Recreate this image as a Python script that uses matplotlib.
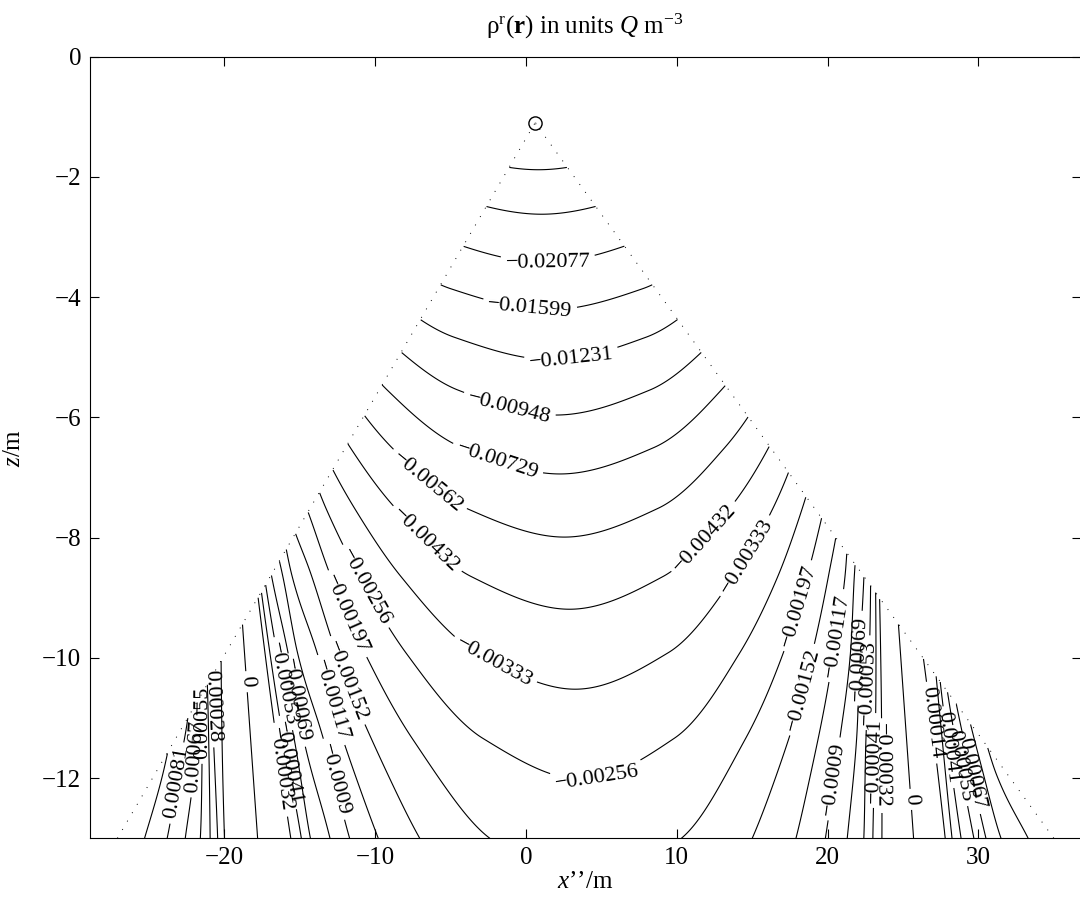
import numpy as np
import matplotlib.pyplot as plt

plt.rcParams['font.family'] = ['Liberation Serif', 'DejaVu Serif']
plt.rcParams['mathtext.fontset'] = 'custom'
plt.rcParams['mathtext.rm'] = 'Liberation Serif'
plt.rcParams['mathtext.it'] = 'Liberation Serif:italic'
plt.rcParams['mathtext.bf'] = 'Liberation Serif:bold'

# contour levels as labelled on the figure (Q m^-3)
levels = [-0.03505, -0.02698, -0.02077, -0.01599, -0.01231, -0.00948, -0.00729,
          -0.00562, -0.00432, -0.00333, -0.00256, -0.00197, -0.00152, -0.00117,
          -0.0009, -0.00069, -0.00053, -0.00041, -0.00032, 0.0,
          0.00014, 0.00028, 0.00041, 0.00055, 0.00067, 0.00081, 0.00095]

# point source and the cone below it
apex = (0.6, -1.1)
cone_left = (-27.1, -13.0)
cone_right = (35.0, -13.0)

# depth at which each level crosses the axis of the pattern
axis_z = [-1.88, -2.62, -3.42, -4.21, -5.04, -5.96, -6.94, -7.99, -9.19, -10.52, -12.02, -13.8]
axis_rho = [-0.03505, -0.02698, -0.02077, -0.01599, -0.01231, -0.00948, -0.00729,
            -0.00562, -0.00432, -0.00333, -0.00256, -0.00197]

# where the contours cut the bottom edge (z = -13), left and right of the axis
bottom_mid = 3.96
bottom_x_left = [-2.4, -7.05, -9.8, -11.7, -13.0, -14.3, -14.9, -15.6, -17.8,
                 -20.0, -20.45, -20.95, -21.6, -22.6, -23.8, -25.3]
bottom_x_right = [10.3, 15.0, 17.9, 19.85, 21.3, 22.4, 23.0, 23.6, 25.7,
                  27.8, 28.25, 28.85, 29.7, 30.5, 31.5, 33.3]
bottom_rho = [-0.00197, -0.00152, -0.00117, -0.0009, -0.00069, -0.00053, -0.00041, -0.00032, 0.0,
              0.00014, 0.00028, 0.00041, 0.00055, 0.00067, 0.00081, 0.00095]

# contour labels: (level, x, z) near where each one sits
label_at = [
    (-0.02077, 1.46, -3.38), (-0.01599, 0.27, -4.18), (-0.01231, 3.0, -4.96),
    (-0.00948, -1.06, -5.79), (-0.00729, -1.86, -6.71), (-0.00562, -6.37, -7.04),
    (-0.00432, -6.6, -8.04), (-0.00432, 11.7, -7.98), (-0.00333, 14.2, -8.26),
    (-0.00333, -2.17, -10.09), (-0.00256, -10.6, -8.81), (-0.00256, 4.69, -11.97),
    (-0.00197, -11.7, -9.25), (-0.00197, 17.5, -9.1),
    (-0.00152, -11.7, -10.37), (-0.00152, 17.95, -10.5),
    (-0.00117, -12.8, -10.7), (-0.00117, 19.7, -9.6),
    (-0.0009, -12.9, -12.03), (-0.0009, 20.0, -12.0),
    (-0.00069, -15.2, -10.7), (-0.00069, 21.5, -10.0),
    (-0.00053, -15.65, -10.4), (-0.00053, 22.2, -10.4),
    (-0.00041, -16.1, -11.75), (-0.00041, 23.3, -11.7),
    (-0.00032, -16.1, -11.85), (-0.00032, 23.3, -11.8),
    (0.0, -18.0, -10.39), (0.0, 25.3, -12.36),
    (0.00028, -19.8, -10.8), (0.00055, -21.0, -11.08), (0.00067, -21.8, -11.64),
    (0.00081, -23.2, -12.08),
    (0.00014, 26.2, -11.1), (0.00041, 27.3, -11.5), (0.00055, 28.7, -11.8),
    (0.00067, 29.2, -11.95),
]


def fmt(v):
    s = ('%.5f' % v).rstrip('0').rstrip('.')
    if s in ('-0', ''):
        s = '0'
    return s.replace('-', '\u2212')


def pchip(xp, yp, xq):
    # monotone cubic through the read points, straight lines past the ends
    xp = np.asarray(xp, float)
    yp = np.asarray(yp, float)
    h = np.diff(xp)
    dl = np.diff(yp) / h
    d = np.zeros_like(yp)
    d[0], d[-1] = dl[0], dl[-1]
    for k in range(1, len(xp) - 1):
        if dl[k - 1] * dl[k] > 0:
            w1 = 2 * h[k] + h[k - 1]
            w2 = h[k] + 2 * h[k - 1]
            d[k] = (w1 + w2) / (w1 / dl[k - 1] + w2 / dl[k])
    i = np.clip(np.searchsorted(xp, xq) - 1, 0, len(xp) - 2)
    t = np.clip((xq - xp[i]) / h[i], 0, 1)
    t2, t3 = t * t, t * t * t
    y = ((2 * t3 - 3 * t2 + 1) * yp[i] + (t3 - 2 * t2 + t) * h[i] * d[i]
         + (-2 * t3 + 3 * t2) * yp[i + 1] + (t3 - t2) * h[i] * d[i + 1])
    y = np.where(xq < xp[0], yp[0] + d[0] * (xq - xp[0]), y)
    y = np.where(xq > xp[-1], yp[-1] + d[-1] * (xq - xp[-1]), y)
    return y


x = np.linspace(-29, 37, 1100)
z = np.linspace(-13, -1.1, 700)
X, Z = np.meshgrid(x, z)

# decay along the axis (apex -> middle of the bottom edge)
depth = -np.array(axis_z)
ln_rho = np.log(-np.array(axis_rho))
ln_f = pchip(depth, ln_rho, -Z)
f13 = np.exp(pchip(depth, ln_rho, np.array(13.0)))

# lateral profile across the axis, taken from the bottom edge
dx = np.array(bottom_x_left[::-1] + [bottom_mid] + bottom_x_right) - bottom_mid
gv = np.array(bottom_rho[::-1] + [-f13] + bottom_rho) / -f13
x_axis = apex[0] + (bottom_mid - apex[0]) * (apex[1] - Z) / (apex[1] + 13.0)
g = pchip(dx, gv, X - x_axis)
rho = -np.exp(ln_f) * g

# keep only the inside of the cone
xl = apex[0] + (Z - apex[1]) * (cone_left[0] - apex[0]) / (cone_left[1] - apex[1])
xr = apex[0] + (Z - apex[1]) * (cone_right[0] - apex[0]) / (cone_right[1] - apex[1])
rho = np.where((X >= xl) & (X <= xr), rho, np.nan)

fig = plt.figure(figsize=(10.8, 9.02), dpi=100)
ax = fig.add_axes([89.5 / 1080, 1 - 838.3 / 902, 991 / 1080, 781.6 / 902])
ax.set_xlim(-28.95, 36.77)
ax.set_ylim(-13, 0)

cs = ax.contour(X, Z, rho, levels=levels, colors='k', linewidths=0.8,
                negative_linestyles='solid')

# snap every label position onto its own contour, then label them in one go
spots = []
to_px = ax.transData
for lv, lx, lz in label_at:
    verts = cs.get_paths()[levels.index(lv)].vertices
    verts = verts[np.isfinite(verts).all(axis=1)]
    if len(verts) == 0:
        continue
    pv = to_px.transform(verts)
    pt = to_px.transform([(lx, lz)])[0]
    spots.append(tuple(verts[np.argmin(((pv - pt) ** 2).sum(axis=1))]))
ax.clabel(cs, manual=spots, fmt=fmt, fontsize=16, inline=True, inline_spacing=5)

ax.plot([cone_left[0], apex[0], cone_right[0]], [cone_left[1], apex[1], cone_right[1]],
        color='k', lw=0.7, linestyle=(0, (1.0, 9.0)))
ax.plot(apex[0], apex[1], 'o', mfc='none', mec='k', ms=9.5, mew=1.0)
ax.plot(apex[0], apex[1], '.', color='0.5', ms=1)

xt = [-20, -10, 0, 10, 20, 30]
yt = [-12, -10, -8, -6, -4, -2, 0]
ax.set_xticks(xt)
ax.set_yticks(yt)
ax.set_xticklabels([fmt(v) for v in xt])
ax.set_yticklabels([fmt(v) for v in yt])
ax.tick_params(direction='in', top=True, right=True, length=6.5, width=0.8,
               labelsize=18, pad=6)
for s in ax.spines.values():
    s.set_linewidth(0.8)

ax.set_title(r'$\mathrm{\rho}^{\mathrm{r}}(\mathbf{r})$ in units $Q$ m$^{-3}$', fontsize=18, pad=17)
ax.set_xlabel('$x$\u2019\u2019/m', fontsize=18, labelpad=2)
ax.set_ylabel(r'$z$/m', fontsize=18, labelpad=12)

fig.savefig('out.png', dpi=100)
